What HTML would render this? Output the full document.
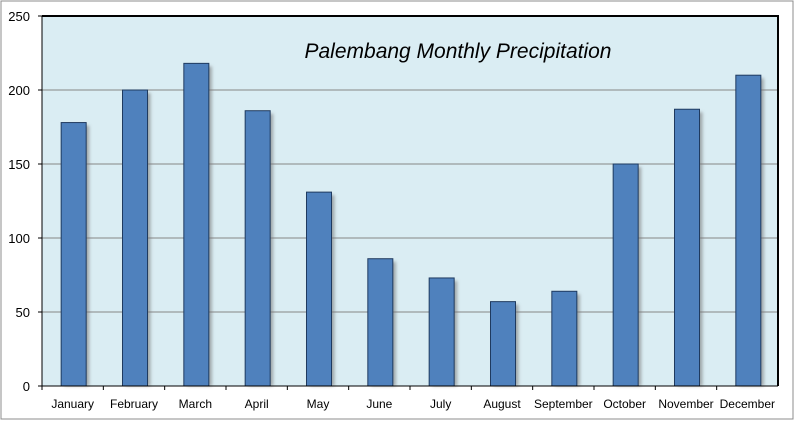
<!DOCTYPE html>
<html><head><meta charset="utf-8"><style>
body{margin:0;background:#fff;}
svg{display:block;font-family:"Liberation Sans",sans-serif;}
</style></head><body>
<svg width="795" height="421">
<defs><filter id="sh" x="-20%" y="-5%" width="150%" height="110%"><feGaussianBlur stdDeviation="1.5"/></filter></defs>
<rect x="1" y="1" width="792" height="418" fill="#fff" stroke="#8c8c8c"/>
<rect x="42" y="16" width="736" height="370" fill="#daedf3"/>
<g id="grid"></g>
<g id="bars"></g>
<line x1="42" y1="16" x2="779" y2="16" stroke="#000" stroke-width="2"/>
<line x1="778" y1="16" x2="778" y2="386" stroke="#000" stroke-width="2"/>
<line x1="42" y1="16" x2="42" y2="386" stroke="#000" stroke-width="1"/>
<line x1="42" y1="386" x2="778" y2="386" stroke="#000" stroke-width="1"/>
<g id="ticks"></g>
<text x="458" y="58" font-size="21" font-style="italic" text-anchor="middle" fill="#000">Palembang Monthly Precipitation</text>
</svg>
<script>
const months=["January","February","March","April","May","June","July","August","September","October","November","December"];
const precip=[178,200,218,186,131,86,73,57,64,150,187,210];
const yTicks=[0,50,100,150,200,250];
const NS="http://www.w3.org/2000/svg";
const L=42,R=778,T=16,B=386,maxV=250;
const y=v=>B-(v/maxV)*(B-T);
const cw=(R-L)/months.length;
const x=i=>L+cw*i;
function mk(tag,attrs,parent){const e=document.createElementNS(NS,tag);for(const k in attrs)e.setAttribute(k,attrs[k]);document.getElementById(parent).appendChild(e);return e;}
yTicks.forEach(t=>{
  if(t>0&&t<maxV){const g=mk("line",{x1:L,x2:R,y1:y(t),y2:y(t),stroke:"#868686"},"grid");
  
  }
  const lb=mk("text",{x:30,y:y(t)+5,"font-size":"13","text-anchor":"end",fill:"#000"},"ticks");
  lb.textContent=t;
  
  
  const tk=mk("line",{x1:L-4,x2:L,y1:y(t),y2:y(t),stroke:"#000"},"ticks");
  
  
});
months.forEach((m,i)=>{
  const bw=25,bx=x(i)+cw/2-bw/2+1,by=y(precip[i]);
  const s=mk("rect",{x:bx+3,y:by+3,width:bw,height:B-by-3,fill:"#777","fill-opacity":"0.6",filter:"url(#sh)"},"bars");
  
  
  const b=mk("rect",{x:bx,y:by,width:bw,height:B-by,fill:"#4f81bd",stroke:"#1f3a5f","stroke-width":"1"},"bars");
  
  
  const lb=mk("text",{x:x(i)+cw/2,y:408,"font-size":"12","text-anchor":"middle",fill:"#000"},"ticks");
  lb.textContent=m;
  
  
  const tk=mk("line",{x1:x(i),x2:x(i),y1:B,y2:B+4,stroke:"#000"},"ticks");
  
  
});
</script>
</body></html>
